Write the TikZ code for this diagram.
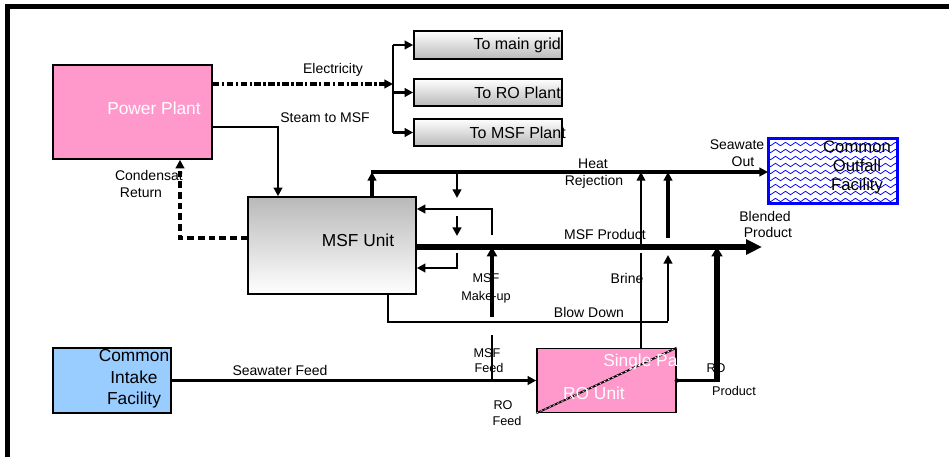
\documentclass[tikz,border=0pt]{standalone}
\usepackage{fontspec}
\setmainfont{Liberation Sans}
\usetikzlibrary{arrows.meta,calc}
\definecolor{ppink}{HTML}{FF99CC}
\definecolor{iblue}{HTML}{99CCFF}
\definecolor{oblue}{HTML}{0000FF}
\begin{document}
\begin{tikzpicture}[x=0.75pt,y=-0.75pt,
 box/.style={draw=black,line width=1.2pt,rectangle,inner sep=0pt,anchor=center},
 gbox/.style={box,top color=white,bottom color=gray!55},
 boxtxt/.style={font=\fontsize{13}{16}\selectfont,inner sep=0pt,align=center},
 gtxt/.style={font=\fontsize{12}{14}\selectfont,inner sep=0pt},
 lab/.style={font=\fontsize{10.5}{12}\selectfont,inner sep=0pt},
 slab/.style={font=\fontsize{9.5}{11}\selectfont,inner sep=0pt},
 tip/.style={-{Triangle[length=6.5pt,width=6.5pt]}},
 thinln/.style={line width=1.2pt},
 medln/.style={line width=1.9pt},
 heavyln/.style={line width=2.4pt},
 prodln/.style={line width=4pt},
 elecln/.style={line width=2.5pt,dash pattern=on 5pt off 1.8pt on 1.8pt off 1.8pt},
 condln/.style={line width=2.4pt,dash pattern=on 5pt off 3pt},
]
\useasboundingbox (0,0) rectangle (949,457);
\fill[white] (0,0) rectangle (949,457);
\fill[black] (5,4) rectangle (949,9);
\fill[black] (5,4) rectangle (10,457);

% boxes
\node[box,fill=ppink,minimum width=159*0.75pt,minimum height=94*0.75pt] (pp) at (132.5,112) {};
\node[gbox,minimum width=148*0.75pt,minimum height=28*0.75pt] (g1) at (488,45) {};
\node[gbox,minimum width=148*0.75pt,minimum height=27*0.75pt] (g2) at (488,92.5) {};
\node[gbox,minimum width=148*0.75pt,minimum height=27*0.75pt] (g3) at (488,132.5) {};
\node[box,top color=gray!55,bottom color=white,minimum width=168*0.75pt,minimum height=97*0.75pt] (msf) at (332,245.5) {};
\node[box,fill=white,draw=oblue,line width=1.5pt,minimum width=128*0.75pt,minimum height=64*0.75pt] (out) at (833,171) {};
\begin{scope}
\clip (out.south west) rectangle (out.north east);
\foreach \yy in {144,151,...,203}
  \draw[oblue,line width=0.55pt] (763,\yy) \foreach \k in {1,...,14}{ sin ++(2.5,-1.7) cos ++(2.5,1.7) sin ++(2.5,1.7) cos ++(2.5,-1.7)};
\end{scope}
\draw[oblue,line width=1.5pt] (out.south west) rectangle (out.north east);
\node[box,fill=iblue,minimum width=118*0.75pt,minimum height=65*0.75pt] (intake) at (112,380.5) {};
\node[box,fill=ppink,minimum width=139*0.75pt,minimum height=64*0.75pt] (ro) at (606.5,380.5) {};
\draw[line width=1.4pt] (ro.south west) -- (ro.north east);
\draw[white,line width=0.5pt,dash pattern=on 1.5pt off 2pt] (ro.south west) -- (ro.north east);

% coordinates
\coordinate (ebus) at (393,84);
\coordinate (st) at (278,127);
\coordinate (cr) at (180,238);
\coordinate (hr) at (372,172);
\coordinate (da1) at (457,172); \coordinate (da1e) at (457,198);
\coordinate (da2) at (457,216); \coordinate (da2e) at (457,236);
\coordinate (rc1) at (492,235); \coordinate (rc1c) at (492,209);
\coordinate (mp) at (762,247);
\coordinate (rc2) at (457,253); \coordinate (rc2c) at (457,268);
\coordinate (mu) at (492,317);
\coordinate (mf) at (492,335);
\coordinate (bd1) at (388,322); \coordinate (bd2) at (668,322); \coordinate (bd3) at (668,255);
\coordinate (bd4) at (668,238);
\coordinate (br1) at (641,253); \coordinate (br2) at (641,244);
\coordinate (rp) at (717,380.5);

% electricity
\draw[elecln,tip] (pp.east |- ebus) -- (ebus);
\draw[medln] (ebus |- g1) -- (ebus |- g3);
\foreach \g in {g1,g2,g3} \draw[medln,tip] (ebus |- \g) -- (\g.west);

% steam
\draw[medln,tip] (pp.east |- st) -- (st) -- (st |- msf.north);
% condensate
\draw[condln,tip] (msf.west |- cr) -- (cr) -- (cr |- pp.south);

% heat rejection
\draw[heavyln,tip] (hr |- msf.north) -- (hr);
\draw[heavyln,tip] ([xshift=-0.9pt]hr) -- (hr -| out.west);
\draw[medln,tip] (da1) -- (da1e);
\draw[medln,tip] (da2) -- (da2e);
\draw[medln,tip] (rc1) -- (rc1c) -- (rc1c -| msf.east);
\draw[medln,tip] (rc2) -- (rc2c) -- (rc2c -| msf.east);

% MSF product
\draw[prodln,-{Triangle[length=12pt,width=11pt]}] (msf.east |- mp) -- (mp);
% make-up and feed
\draw[heavyln,-{Triangle[length=7pt,width=7.5pt]}] (mu) -- (mu |- mp);
\draw[thinln] (mf) -- (mf |- intake.east);
% seawater feed
\draw[heavyln,tip] (intake.east) -- (ro.west);
% blow down
\draw[thinln] (bd1 |- msf.south) -- (bd1) -- (bd2);
\draw[medln,tip] ([yshift=0.5pt]bd2) -- (bd3);
\draw[heavyln,tip] (bd4) -- (bd4 |- hr);
% brine
\draw[thinln] (ro.north -| br1) -- (br1);
\draw[thinln,tip] (br2) -- (br2 |- hr);
% RO product
\draw[medln] (ro.east) -- (rp);
\fill (ro.east) circle (1.7pt);
\draw[line width=4pt,-{Triangle[length=7pt,width=8pt]}] ([yshift=-1pt]rp) -- (rp |- mp);

% texts
\node[boxtxt,text=white] (ppt) at (154,108) {Power Plant};
\node[gtxt,anchor=east] (g1t) at (561,45) {To main grid};
\node[gtxt,anchor=east] (g2t) at (561,92.5) {To RO Plant};
\node[gtxt,anchor=east] (g3t) at (566,132.5) {To MSF Plant};
\node[boxtxt] (msft) at (358,240) {MSF Unit};
\node[font=\fontsize{12.5}{14.25}\selectfont,inner sep=0pt,align=center] (outt) at (857,167) {Common\\Outfall\\Facility};
\node[font=\fontsize{13}{16}\selectfont,inner sep=0pt,align=center] (intt) at (134,379) {Common\\Intake\\Facility};
\begin{scope}
\clip (ro.south west) rectangle (ro.north east);
\node[boxtxt,text=white,anchor=west] (rot1) at (603,362) {Single Pa};
\end{scope}
\node[boxtxt,text=white] (rot2) at (594,393) {RO Unit};

\node[lab] (lelec) at (333,70) {Electricity};
\node[lab] (lsteam) at (325,118) {Steam to MSF};
\node[lab,anchor=east] (lcond1) at (183,175) {Condensat};
\node[lab] (lcond2) at (141,193) {Return};
\node[lab] (lheat1) at (593,164) {Heat};
\node[lab] (lheat2) at (594,182) {Rejection};
\node[lab] (lsw1) at (737,145) {Seawate};
\node[lab] (lsw2) at (743,162) {Out};
\node[lab] (lbl1) at (765,216) {Blended};
\node[lab] (lbl2) at (768,232) {Product};
\node[lab] (lmp) at (605,234) {MSF Product};
\node[slab] (lmu1) at (486,278) {MSF};
\node[slab] (lmu2) at (486,297) {Make-up};
\node[lab] (lbr) at (627,278) {Brine};
\node[lab] (lbd) at (589,312) {Blow Down};
\node[slab] (lmf1) at (487,353) {MSF};
\node[slab] (lmf2) at (489,368) {Feed};
\node[slab] (lrf1) at (503,405) {RO};
\node[slab] (lrf2) at (507,421) {Feed};
\node[slab] (lrp1) at (716,368) {RO};
\node[slab] (lrp2) at (734,391) {Product};
\node[lab] (lsf) at (280,370) {Seawater Feed};
\end{tikzpicture}
\end{document}
